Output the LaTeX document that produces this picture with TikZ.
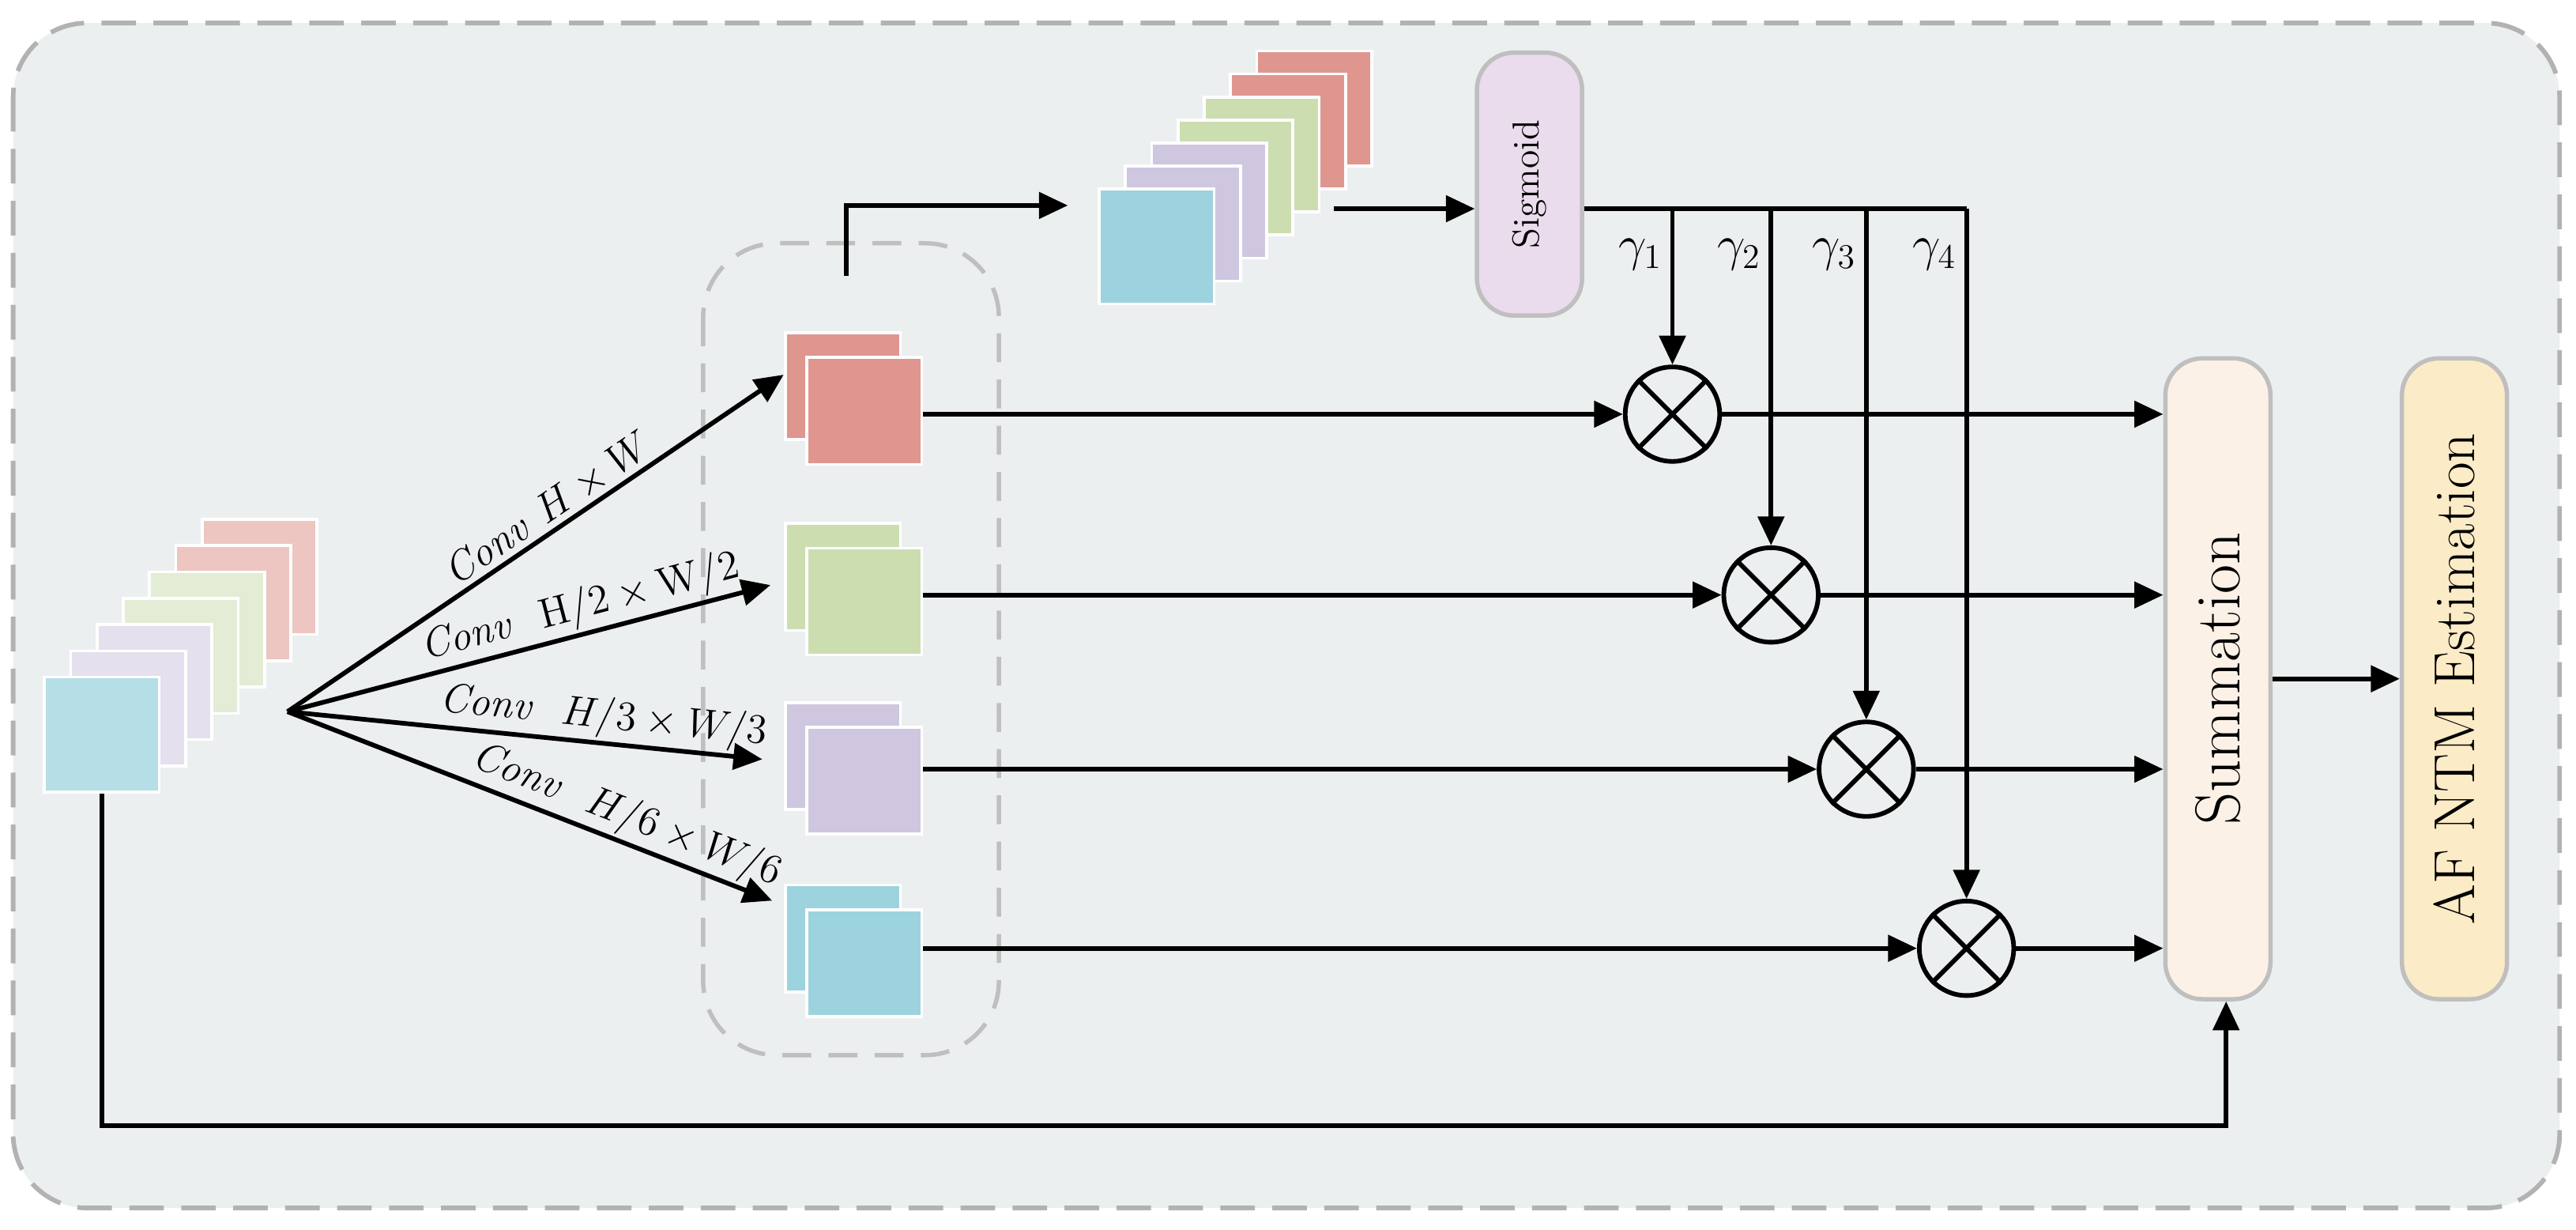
\documentclass[tikz,border=0pt]{standalone}
\usepackage{amssymb}
\usetikzlibrary{arrows.meta,positioning}
\definecolor{bgc}{HTML}{ECEFF0}
\definecolor{cyanc}{HTML}{9DD3DE}
\definecolor{purc}{HTML}{CFC6DF}
\definecolor{grnc}{HTML}{CCDDB0}
\definecolor{redc}{HTML}{DE968F}
\definecolor{sigc}{HTML}{EADCEC}
\definecolor{sumc}{HTML}{FCF1E6}
\definecolor{estc}{HTML}{FBEBC6}
\begin{document}
\begin{tikzpicture}[x=0.02cm,y=-0.02cm,
    fmap/.style={draw=white,line width=1pt,minimum size=1.4cm,inner sep=0pt},
    arr/.style={-{Triangle[length=10pt,width=9pt]},line width=1.6pt},
    ln/.style={line width=1.6pt},
    box/.style={draw=black!25,line width=1.5pt,rounded corners=0.45cm,minimum width=1.28cm,minimum height=7.8cm},
    mul/.style={circle,draw,line width=1.6pt,minimum size=1.15cm,inner sep=0pt,fill=bgc},
    lbl/.style={font=\fontsize{14}{16}\selectfont,sloped,above,inner sep=1pt}]
  \useasboundingbox (0,0) rectangle (1568,748);
  \draw[black!30,dashed,line width=1.6pt,dash pattern=on 12pt off 6pt,fill=bgc,rounded corners=0.9cm] (8,14) rectangle (1558,735);
  % input stack
  \foreach \c [count=\i from 0] in {redc!55,redc!55,grnc!55,grnc!55,purc!55,purc!55,cyanc!75}
    \node[fmap,fill=\c] (in\i) at ({158-\i*16},{351+\i*16}) {};
  \coordinate (src) at (175,433);
  % branches
  \foreach \n/\c/\y in {a/redc/250,b/grnc/366,c/purc/475,d/cyanc/586}{
    \node[fmap,fill=\c,minimum height=1.3cm] (\n0) at (513,{\y-15}) {};
    \node[fmap,fill=\c,minimum height=1.3cm] (\n) at (526,\y) {};
  }
  \draw[black!25,dashed,line width=1.5pt,dash pattern=on 10pt off 6pt,rounded corners=0.9cm] (428,148) rectangle (608,642);
  \draw[arr] (src) -- node[lbl,pos=0.55]{$\mathit{Conv}\ H\times W$} (477,228);
  \draw[arr] (src) -- node[lbl,pos=0.62]{$\mathit{Conv}\ \ \mathrm{H}/2\times \mathrm{W}/2$} (469,356);
  \draw[arr] (src) -- node[lbl,pos=0.66]{$\mathit{Conv}\ \ H/3\times W/3$} (464,462);
  \draw[arr] (src) -- node[lbl,pos=0.68]{$\mathit{Conv}\ \ H/6\times W/6$} (470,548);
  % attention stack
  \foreach \c [count=\i from 0] in {redc,redc,grnc,grnc,purc,purc,cyanc}
    \node[fmap,fill=\c] (at\i) at ({800-\i*16},{66+\i*14}) {};
  \coordinate (up) at (515,168);
  \draw[arr] (up) |- (650,125);
  \node[box,fill=sigc,minimum height=3.2cm] (sig) at (931,112) {};
  \node[rotate=90,font=\fontsize{13}{15}\selectfont] (sigt) at (sig) {Sigmoid};
  \draw[arr] (812,127) -- (sig.west|-0,127);
  % multipliers
  \node[box,fill=sumc] (sum) at (1350,413) {};
  \node[rotate=90,font=\fontsize{22}{26}\selectfont] (sumt) at (sum) {Summation};
  \node[box,fill=estc] (est) at (1494,413) {};
  \node[rotate=90,font=\fontsize{20}{24}\selectfont] (estt) at (est) {AF NTM Estimation};
  \coordinate (tap) at (1197,127);
  \draw[ln] (sig.east|-0,127) -- (tap);
  \foreach \n/\x/\y/\k in {a/1018/252/1,b/1078/362/2,c/1136/468/3,d/1197/577/4}{
    \node[mul] (m\k) at (\x,\y) {};
    \draw[ln] (m\k.north west) -- (m\k.south east) (m\k.north east) -- (m\k.south west);
    \draw[arr] (\x,127) -- (m\k.north);
    \node[left,font=\fontsize{18}{20}\selectfont] (g\k) at (\x,155) {$\gamma_{\k}$};
    \draw[arr] (\n.east|-m\k) -- (m\k.west);
    \draw[arr] (m\k.east) -- (sum.west|-m\k);
  }
  \draw[arr] (sum.east) -- (est.west);
  \draw[arr] (in6.south-|62,0) |- (1355,685) -- (sum.south-|1355,0);
\end{tikzpicture}
\end{document}
